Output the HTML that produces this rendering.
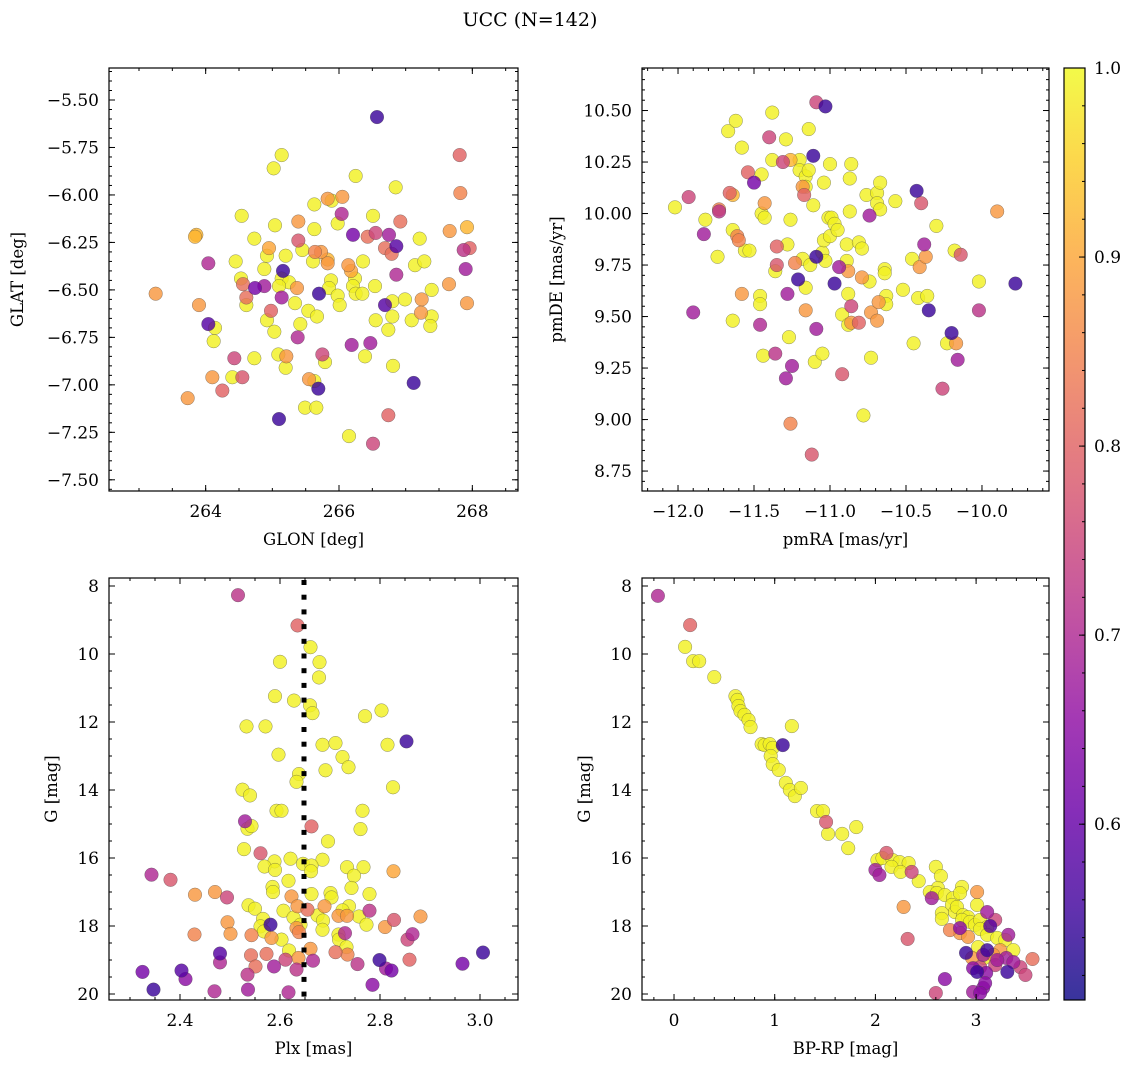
<!DOCTYPE html>
<html><head><meta charset="utf-8">
<style>
html,body{margin:0;padding:0;background:#fff;}
svg{display:block;font-family:"DejaVu Serif","Liberation Serif",serif;}
</style></head>
<body>
<svg id="chart" width="1136" height="1068" viewBox="0 0 1136 1068" xmlns="http://www.w3.org/2000/svg">
<text x="530" y="26" text-anchor="middle" font-size="19">UCC (N=142)</text>
</svg>
<script>
// ---------- Panel 1: GLON / GLAT ----------
const glon = [263.25,263.73,263.86,263.84,263.90,264.04,264.04,264.14,264.12,264.10,264.25,264.40,264.43,264.55,264.45,264.54,264.73,264.53,264.56,264.61,264.61,264.73,264.74,264.88,264.98,264.92,265.03,264.88,264.95,264.92,265.04,265.02,265.14,265.16,265.14,265.25,265.10,265.14,265.20,265.09,265.21,265.20,265.10,265.34,265.37,265.39,265.39,265.45,265.38,265.42,265.54,265.49,265.63,265.63,265.61,265.64,265.73,265.83,265.83,265.67,265.55,265.63,265.69,265.66,265.70,265.83,265.89,266.05,266.04,265.98,265.88,265.85,265.98,266.01,265.75,265.79,266.15,266.25,266.21,266.14,266.18,266.24,266.21,266.25,266.35,266.36,266.19,266.39,266.47,266.51,266.57,266.51,266.43,266.55,266.54,266.55,266.69,266.74,266.81,266.80,266.80,266.69,266.79,266.86,266.75,266.92,266.85,266.86,266.74,266.99,267.12,267.09,267.14,267.28,267.21,267.24,267.23,267.39,267.37,267.39,267.65,267.66,267.81,267.82,267.92,267.87,267.96,267.90,267.92];
const glat = [-6.52,-7.07,-6.21,-6.22,-6.58,-6.36,-6.68,-6.70,-6.77,-6.96,-7.03,-6.96,-6.86,-6.96,-6.35,-6.11,-6.23,-6.44,-6.47,-6.54,-6.58,-6.86,-6.49,-6.48,-6.61,-6.66,-6.72,-6.39,-6.28,-6.32,-6.16,-5.86,-5.79,-6.40,-6.44,-6.46,-6.48,-6.54,-6.32,-6.84,-6.85,-6.91,-7.18,-6.57,-6.49,-6.24,-6.14,-6.29,-6.75,-6.68,-6.61,-7.12,-6.05,-6.18,-6.35,-6.30,-6.30,-6.34,-6.36,-6.64,-6.97,-6.98,-7.02,-7.12,-6.52,-6.02,-6.03,-6.01,-6.10,-6.15,-6.45,-6.49,-6.53,-6.58,-6.84,-6.88,-7.27,-5.90,-6.21,-6.37,-6.40,-6.44,-6.48,-6.52,-6.52,-6.35,-6.79,-6.85,-6.78,-7.31,-5.59,-6.11,-6.22,-6.20,-6.48,-6.66,-6.58,-6.71,-6.90,-6.64,-6.56,-6.28,-6.31,-6.27,-6.21,-6.14,-5.96,-6.42,-7.16,-6.55,-6.99,-6.66,-6.37,-6.35,-6.23,-6.55,-6.62,-6.64,-6.69,-6.50,-6.47,-6.19,-5.79,-5.99,-6.17,-6.29,-6.28,-6.39,-6.57];
const prob1 = [.88,.88,.92,.92,.88,.70,.58,.99,.99,.88,.80,.99,.75,.78,.99,.99,.99,.99,.82,.82,.99,.99,.62,.68,.80,.99,.99,.99,.90,.99,.99,.99,.99,.55,.99,.99,.99,.68,.99,.99,.88,.99,.55,.99,.88,.78,.88,.99,.70,.99,.99,.99,.99,.99,.99,.85,.88,.92,.88,.99,.88,.99,.55,.99,.55,.88,.99,.88,.70,.99,.99,.99,.99,.99,.75,.99,.99,.99,.62,.88,.90,.99,.99,.99,.99,.99,.68,.99,.68,.75,.55,.99,.82,.75,.99,.99,.58,.99,.99,.99,.99,.82,.82,.58,.68,.82,.99,.70,.80,.99,.55,.99,.99,.99,.99,.88,.88,.99,.99,.99,.88,.88,.80,.85,.92,.72,.80,.68,.88];

// ---------- Panel 2: pmRA / pmDE ----------
const pmra = [-12.02,-11.93,-11.90,-11.83,-11.82,-11.74,-11.73,-11.73,-11.67,-11.62,-11.66,-11.64,-11.64,-11.61,-11.60,-11.58,-11.58,-11.64,-11.56,-11.53,-11.54,-11.50,-11.46,-11.45,-11.46,-11.46,-11.44,-11.45,-11.43,-11.43,-11.40,-11.38,-11.38,-11.36,-11.36,-11.35,-11.35,-11.31,-11.29,-11.26,-11.26,-11.28,-11.28,-11.27,-11.25,-11.29,-11.26,-11.23,-11.20,-11.20,-11.18,-11.17,-11.16,-11.14,-11.16,-11.18,-11.16,-11.16,-11.21,-11.13,-11.12,-11.14,-11.11,-11.11,-11.09,-11.03,-11.09,-11.09,-11.10,-11.05,-11.04,-11.05,-11.03,-11.04,-11.00,-11.01,-10.99,-10.97,-10.95,-11.00,-10.97,-10.94,-10.89,-10.89,-10.88,-10.88,-10.87,-10.87,-10.86,-10.86,-10.81,-10.79,-10.79,-10.74,-10.74,-10.76,-10.86,-10.81,-10.92,-10.88,-10.78,-10.92,-10.73,-10.73,-10.69,-10.68,-10.69,-10.67,-10.69,-10.67,-10.63,-10.63,-10.64,-10.64,-10.57,-10.52,-10.45,-10.46,-10.43,-10.42,-10.41,-10.40,-10.38,-10.37,-10.36,-10.35,-10.30,-10.26,-10.23,-10.20,-10.17,-10.16,-10.18,-10.14,-10.02,-10.02,-9.90,-9.78];
const pmde = [10.03,10.08,9.52,9.90,9.97,9.79,10.02,10.01,10.40,10.45,10.10,10.09,9.92,9.89,9.87,10.32,9.61,9.48,9.82,9.82,10.20,10.15,9.46,10.19,9.60,9.56,9.31,10.00,9.98,10.05,10.37,10.49,10.26,9.72,9.32,9.75,9.84,10.25,10.36,10.26,9.97,9.85,9.61,9.40,9.26,9.20,8.98,9.76,10.26,10.21,10.13,10.09,10.18,10.21,10.13,9.78,9.64,9.53,9.68,9.75,8.83,10.41,10.28,10.04,10.54,10.52,9.79,9.44,9.28,9.32,10.15,9.81,9.77,9.87,9.89,9.98,9.98,9.95,9.92,10.24,9.66,9.74,9.85,9.77,9.72,9.61,10.01,10.17,10.24,9.55,9.86,9.83,9.69,9.67,9.99,10.09,9.47,9.47,9.51,9.46,9.02,9.22,9.30,9.52,9.48,9.57,10.10,10.15,10.05,10.02,9.60,9.56,9.73,9.71,10.06,9.63,9.37,9.78,10.11,9.59,9.74,10.05,9.85,9.79,9.60,9.53,9.94,9.15,9.37,9.42,9.37,9.29,9.82,9.80,9.67,9.53,10.01,9.66];
const prob2 = [.99,.75,.68,.68,.99,.99,.85,.72,.99,.99,.80,.92,.99,.85,.85,.99,.88,.99,.99,.99,.80,.62,.70,.99,.99,.99,.99,.99,.99,.88,.75,.99,.99,.99,.72,.78,.80,.75,.99,.92,.99,.99,.68,.99,.68,.68,.85,.85,.99,.99,.88,.80,.99,.99,.99,.99,.99,.88,.55,.99,.78,.99,.55,.99,.75,.55,.55,.68,.99,.99,.99,.99,.99,.99,.99,.99,.99,.99,.99,.99,.55,.68,.99,.99,.88,.99,.99,.99,.99,.75,.99,.99,.88,.99,.68,.99,.88,.80,.99,.99,.99,.78,.99,.88,.88,.88,.99,.99,.99,.99,.99,.99,.99,.99,.99,.99,.99,.99,.55,.99,.88,.78,.68,.88,.99,.55,.99,.75,.99,.55,.88,.68,.99,.78,.99,.72,.88,.55];

// ---------- Panel 3: Plx / G ----------
const plx = [2.516,2.635,2.661,2.600,2.679,2.678,2.590,2.628,2.660,2.665,2.803,2.770,2.533,2.571,2.853,2.685,2.711,2.815,2.597,2.725,2.737,2.691,2.638,2.633,2.826,2.525,2.540,2.593,2.603,2.765,2.530,2.535,2.543,2.663,2.761,2.696,2.528,2.561,2.621,2.685,2.589,2.569,2.590,2.646,2.663,2.662,2.734,2.767,2.748,2.827,2.343,2.381,2.617,2.585,2.586,2.743,2.430,2.470,2.494,2.623,2.663,2.701,2.703,2.779,2.537,2.550,2.607,2.635,2.655,2.689,2.627,2.675,2.686,2.738,2.725,2.717,2.734,2.758,2.773,2.779,2.810,2.828,2.881,2.495,2.501,2.429,2.543,2.566,2.561,2.568,2.581,2.583,2.603,2.633,2.641,2.638,2.685,2.717,2.718,2.730,2.733,2.618,2.855,2.865,2.480,2.480,2.542,2.573,2.611,2.637,2.661,2.666,2.711,2.735,2.755,2.799,2.812,2.823,2.859,2.551,2.588,2.633,2.535,2.325,2.403,2.411,2.347,2.469,2.536,2.617,2.785,2.965,3.006];
const gmag3 = [8.27,9.16,9.80,10.23,10.24,10.69,11.24,11.37,11.51,11.74,11.66,11.83,12.13,12.13,12.57,12.67,12.62,12.67,12.96,13.03,13.33,13.42,13.53,13.76,13.92,13.99,14.16,14.61,14.61,14.61,14.92,15.14,15.06,15.07,15.15,15.51,15.74,15.86,16.02,16.05,16.10,16.25,16.35,16.17,16.22,16.39,16.27,16.27,16.52,16.39,16.49,16.64,16.67,16.85,17.00,16.88,17.08,17.00,17.16,17.13,17.06,17.03,17.16,17.06,17.39,17.49,17.55,17.42,17.52,17.42,17.75,17.69,17.84,17.42,17.54,17.70,17.70,17.72,17.96,17.55,18.03,17.82,17.72,17.89,18.23,18.25,18.27,17.79,18.01,18.16,17.96,18.35,18.40,18.06,17.96,18.18,18.11,18.25,18.40,18.21,18.62,18.72,18.40,18.24,18.81,19.07,18.86,18.82,18.99,18.94,18.67,19.02,18.77,18.84,19.12,19.00,19.25,19.31,18.99,19.19,19.19,19.28,19.43,19.35,19.31,19.56,19.87,19.92,19.87,19.95,19.73,19.11,18.78];
const prob3 = [.72,.80,.99,.99,.99,.99,.99,.99,.99,.99,.99,.99,.99,.99,.55,.99,.99,.99,.99,.99,.99,.99,.99,.99,.99,.99,.99,.99,.99,.99,.68,.99,.99,.80,.99,.99,.99,.78,.99,.99,.99,.99,.99,.99,.99,.99,.99,.99,.99,.90,.70,.78,.99,.99,.99,.99,.88,.88,.75,.88,.99,.99,.99,.99,.99,.99,.99,.88,.82,.88,.99,.99,.99,.99,.99,.88,.88,.99,.99,.72,.88,.78,.88,.88,.88,.85,.85,.99,.99,.99,.55,.88,.99,.88,.99,.85,.99,.99,.99,.70,.99,.99,.75,.70,.58,.70,.82,.82,.75,.88,.88,.70,.82,.85,.72,.55,.68,.62,.80,.82,.68,.72,.72,.62,.58,.65,.55,.70,.68,.70,.65,.62,.55];

// ---------- Panel 4: BP-RP / G ----------
const bprp = [-0.16,0.16,0.11,0.19,0.25,0.40,0.61,0.63,0.64,0.66,0.70,0.74,0.76,0.87,0.90,0.95,0.98,0.96,0.98,1.04,1.08,1.17,1.11,1.15,1.20,1.26,1.42,1.48,1.51,1.53,1.67,1.73,1.81,2.00,2.02,2.11,2.07,2.17,2.24,2.33,2.16,2.25,2.36,2.43,2.04,2.28,2.32,2.60,2.65,2.62,2.54,2.56,2.61,2.69,2.77,2.86,2.84,3.01,2.76,2.79,2.81,3.01,3.11,2.66,2.66,2.87,2.92,2.86,2.94,2.99,3.04,3.19,3.14,3.11,3.04,3.11,3.21,3.29,3.32,2.74,2.84,2.92,2.84,3.02,3.11,3.07,3.24,3.37,3.30,2.90,2.96,3.08,3.17,3.21,3.37,3.56,3.44,3.49,3.31,3.04,2.97,3.01,3.10,3.19,2.69,2.60,2.97,3.07,3.09,3.04];
const gmag4 = [8.29,9.15,9.79,10.21,10.21,10.68,11.24,11.35,11.53,11.68,11.79,11.94,12.15,12.65,12.68,12.65,12.76,13.00,13.24,13.41,12.68,12.12,13.79,14.00,14.18,13.94,14.62,14.62,14.94,15.29,15.29,15.71,15.09,16.35,16.06,15.85,16.00,16.06,16.12,16.15,16.26,16.41,16.41,16.68,16.50,17.44,18.38,16.26,16.53,16.88,17.00,17.18,17.03,17.09,17.18,16.85,17.03,17.00,17.38,17.59,17.44,17.38,17.59,17.62,17.79,17.68,17.74,17.82,17.88,17.97,17.82,17.82,18.00,18.03,18.09,18.26,18.35,18.41,18.26,18.12,18.21,18.32,18.06,18.62,18.71,18.85,18.71,18.71,18.94,18.79,18.94,18.94,18.85,19.00,19.06,18.97,19.21,19.44,19.35,19.21,19.24,19.35,19.38,19.15,19.56,19.97,19.94,19.82,19.68,19.97];
const prob4 = [.70,.80,.99,.99,.99,.99,.99,.99,.99,.99,.99,.99,.99,.99,.99,.99,.99,.99,.99,.99,.55,.99,.99,.99,.99,.99,.99,.99,.78,.99,.99,.99,.99,.68,.99,.78,.99,.99,.99,.99,.99,.99,.75,.99,.68,.88,.78,.99,.99,.99,.99,.68,.99,.99,.99,.99,.99,.88,.99,.99,.99,.99,.68,.99,.99,.99,.99,.99,.99,.99,.99,.75,.58,.99,.99,.99,.99,.99,.68,.85,.88,.88,.65,.99,.55,.68,.88,.99,.68,.55,.88,.99,.88,.68,.68,.82,.75,.75,.55,.75,.65,.55,.65,.75,.65,.75,.68,.65,.65,.65];

// ---------- tick labels ----------
const p1xTicks = [264,266,268];
const p1yTicks = [-5.50,-5.75,-6.00,-6.25,-6.50,-6.75,-7.00,-7.25,-7.50];
const p2xTicks = [-12.0,-11.5,-11.0,-10.5,-10.0];
const p2yTicks = [8.75,9.00,9.25,9.50,9.75,10.00,10.25,10.50];
const p3xTicks = [2.4,2.6,2.8,3.0];
const gTicks = [8,10,12,14,16,18,20];
const p4xTicks = [0,1,2,3];
const cbTicks = [0.6,0.7,0.8,0.9,1.0];
const plxLine = [2.648];

const NS = "http://www.w3.org/2000/svg";
const svg = document.getElementById("chart");
const VMIN = 0.507, VMAX = 1.0;
const plasma = ["#0d0887","#41049d","#6a00a8","#8f0da4","#b12a90","#cc4778","#e16462","#f2844b","#fca636","#fcce25","#f0f921"];
function hex(h){return [parseInt(h.substr(1,2),16),parseInt(h.substr(3,2),16),parseInt(h.substr(5,2),16)];}
function cmap(v){
  let t=(v-VMIN)/(VMAX-VMIN); t=Math.max(0,Math.min(1,t));
  const f=t*10, i=Math.min(9,Math.floor(f)), r=f-i;
  const a=hex(plasma[i]), b=hex(plasma[i+1]);
  return "rgb("+a.map((c,k)=>Math.round(c+(b[k]-c)*r)).join(",")+")";
}
function mk(tag, attrs, parent){
  const e=document.createElementNS(NS,tag);
  for(const k in attrs) e.setAttribute(k,attrs[k]);
  (parent||svg).appendChild(e); return e;
}
function fmt(v,d){const s=Math.abs(v).toFixed(d); return (v<0?"\u2212":"")+s;}

function panel(cfg){
  const g=mk("g",{});
  
  
  const sx=v=>cfg.L+(v-cfg.x0)/(cfg.x1-cfg.x0)*(cfg.R-cfg.L);
  const sy=v=>cfg.T+(v-cfg.y0)/(cfg.y1-cfg.y0)*(cfg.B-cfg.T);
  const cid="clip-"+cfg.name;
  const cp=mk("clipPath",{id:cid},g);
  mk("rect",{x:cfg.L,y:cfg.T,width:cfg.R-cfg.L,height:cfg.B-cfg.T},cp);
  const pts=mk("g",{"clip-path":"url(#"+cid+")"},g);
  
  
  const n=Math.min(cfg.xs.length,cfg.ys.length,cfg.ps.length);
  const idx=[...Array(n).keys()].sort((a,b)=>cfg.ps[b]-cfg.ps[a]);
  for(const i of idx){
    const c=mk("circle",{cx:sx(cfg.xs[i]),cy:sy(cfg.ys[i]),r:6.8,fill:cmap(cfg.ps[i]),"fill-opacity":0.82,stroke:"#444","stroke-width":0.5,"stroke-opacity":0.6},pts);
    
    
  }
  if(cfg.vline){
    for(const v of cfg.vline){
      const lg=mk("g",{fill:"#000"},g);
      
      
      const X=sx(v);
      for(let y=cfg.T+2; y<cfg.B; y+=14.7){
        mk("rect",{x:X-2.5,y:y,width:5,height:Math.min(5,cfg.B-y)},lg);
      }
    }
  }
  const tk=mk("g",{stroke:"#000","stroke-width":1},g);
  const xmin=Math.min(cfg.x0,cfg.x1), xmax=Math.max(cfg.x0,cfg.x1);
  const ymin=Math.min(cfg.y0,cfg.y1), ymax=Math.max(cfg.y0,cfg.y1);
  for(let v=Math.ceil(xmin/cfg.xm-1e-6)*cfg.xm; v<=xmax+1e-9; v+=cfg.xm){
    const X=sx(v); mk("line",{x1:X,x2:X,y1:cfg.B,y2:cfg.B-3},tk); mk("line",{x1:X,x2:X,y1:cfg.T,y2:cfg.T+3},tk);
  }
  for(let v=Math.ceil(ymin/cfg.ym-1e-6)*cfg.ym; v<=ymax+1e-9; v+=cfg.ym){
    const Y=sy(v); mk("line",{x1:cfg.L,x2:cfg.L+3,y1:Y,y2:Y},tk); mk("line",{x1:cfg.R,x2:cfg.R-3,y1:Y,y2:Y},tk);
  }
  for(const v of cfg.xt){
    const X=sx(v); mk("line",{x1:X,x2:X,y1:cfg.B,y2:cfg.B-6},tk); mk("line",{x1:X,x2:X,y1:cfg.T,y2:cfg.T+6},tk);
    const t=mk("text",{x:X,y:cfg.B+26,"text-anchor":"middle","font-size":17},g); t.textContent=fmt(v,cfg.xd);
    
    
  }
  for(const v of cfg.yt){
    const Y=sy(v); mk("line",{x1:cfg.L,x2:cfg.L+6,y1:Y,y2:Y},tk); mk("line",{x1:cfg.R,x2:cfg.R-6,y1:Y,y2:Y},tk);
    const t=mk("text",{x:cfg.L-10,y:Y+6,"text-anchor":"end","font-size":17},g); t.textContent=fmt(v,cfg.yd);
    
    
  }
  const fr=mk("rect",{x:cfg.L,y:cfg.T,width:cfg.R-cfg.L,height:cfg.B-cfg.T,fill:"none",stroke:"#000","stroke-width":1.2},g);
  
  
  const xl=mk("text",{x:(cfg.L+cfg.R)/2,y:cfg.B+54,"text-anchor":"middle","font-size":16.5},g); xl.textContent=cfg.xlabel;
  
  
  const yx=cfg.ylx, yy=(cfg.T+cfg.B)/2;
  const yl=mk("text",{x:yx,y:yy,"text-anchor":"middle","font-size":16.5,transform:"rotate(-90 "+yx+" "+yy+")"},g); yl.textContent=cfg.ylabel;
  
  
}

panel({name:"glon-glat-panel",L:109,R:518,T:68,B:491,x0:262.55,x1:268.685,y0:-5.3315,y1:-7.559,xs:glon,ys:glat,ps:prob1,xt:p1xTicks,yt:p1yTicks,xd:0,yd:2,xm:0.5,ym:0.05,xlabel:"GLON [deg]",ylabel:"GLAT [deg]",ylx:23});
panel({name:"pm-panel",L:642,R:1049,T:68,B:491,x0:-12.237,x1:-9.559,y0:10.7064,y1:8.6532,xs:pmra,ys:pmde,ps:prob2,xt:p2xTicks,yt:p2yTicks,xd:1,yd:2,xm:0.1,ym:0.05,xlabel:"pmRA [mas/yr]",ylabel:"pmDE [mas/yr]",ylx:562});
panel({name:"plx-g-panel",L:109,R:518,T:578,B:1000,x0:2.258,x1:3.076,y0:7.765,y1:20.176,xs:plx,ys:gmag3,ps:prob3,xt:p3xTicks,yt:gTicks,xd:1,yd:0,xm:0.05,ym:0.5,xlabel:"Plx [mas]",ylabel:"G [mag]",ylx:57,vline:plxLine});
panel({name:"cmd-panel",L:642,R:1049,T:578,B:1000,x0:-0.318,x1:3.724,y0:7.765,y1:20.176,xs:bprp,ys:gmag4,ps:prob4,xt:p4xTicks,yt:gTicks,xd:0,yd:0,xm:0.2,ym:0.5,xlabel:"BP-RP [mag]",ylabel:"G [mag]",ylx:590});

// ---------- colorbar ----------
(function(){
  const L=1064,R=1085,T=68,B=1000;
  const g=mk("g",{});
  
  
  const defs=mk("defs",{},g);
  const lg=mk("linearGradient",{id:"cbg",x1:0,y1:1,x2:0,y2:0},defs);
  for(let i=0;i<=20;i++){ const v=VMIN+(VMAX-VMIN)*i/20; mk("stop",{offset:(i/20),"stop-color":cmap(v)},lg); }
  mk("rect",{x:L,y:T,width:R-L,height:B-T,fill:"url(#cbg)","fill-opacity":0.82},g);
  const sy=v=>B-(v-VMIN)/(VMAX-VMIN)*(B-T);
  const tk=mk("g",{stroke:"#000","stroke-width":1},g);
  for(let v=0.52; v<=1.0001; v+=0.02){ const Y=sy(v); mk("line",{x1:R,x2:R-3,y1:Y,y2:Y},tk); }
  for(const v of cbTicks){
    const Y=sy(v); mk("line",{x1:R,x2:R-6,y1:Y,y2:Y},tk);
    const t=mk("text",{x:R+9,y:Y+6,"font-size":17},g); t.textContent=v.toFixed(1);
    
    
  }
  mk("rect",{x:L,y:T,width:R-L,height:B-T,fill:"none",stroke:"#000","stroke-width":1.2},g);
})();
</script>
</body></html>
